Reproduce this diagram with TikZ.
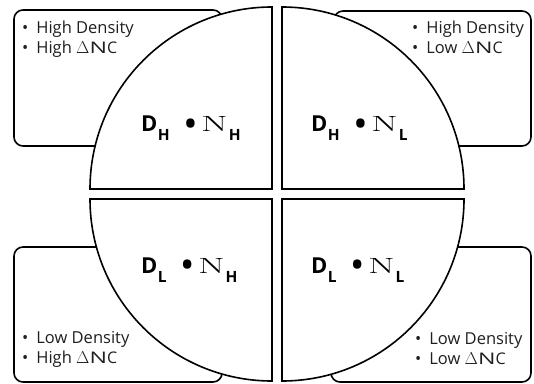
\documentclass[tikz,border=0pt]{standalone}
\usepackage{fontspec}
\usepackage{graphicx}
\newfontfamily\sansf{Open Sans}
\tikzset{
  box/.style={draw=black, line width=1.6pt, rounded corners=9pt, fill=white},
  quad/.style={draw=black, line width=1.6pt, fill=white},
  bul/.style={anchor=base west, inner sep=0pt, font=\sansf\fontsize{16.5}{18}\selectfont, text=black!88},
  lab/.style={anchor=base west, inner sep=0pt}
}
\newcommand{\wideN}[1]{\scalebox{#1}[1]{N}}
\newcommand{\sub}[1]{\raisebox{-9pt}{\sansf\bfseries\fontsize{15.5}{16}\selectfont #1}}
\newcommand{\qlab}[2]{{\sansf\bfseries\fontsize{22}{24}\selectfont D}\hspace{0.5pt}\sub{#1}\hspace{15pt}{\sansf\bfseries\fontsize{30}{30}\selectfont\raisebox{-2.5pt}{•}}\hspace{5pt}{\fontsize{22}{24}\selectfont\wideN{1.75}}\hspace{1pt}\sub{#2}}
\newcommand{\dnc}{{\fontsize{16}{16}\selectfont$\Delta$\wideN{1.45}C}}
\newcommand{\bl}{•\hspace{8pt}}
\begin{document}
\begin{tikzpicture}[x=1pt,y=1pt]
\useasboundingbox (0,0) rectangle (534,383);
% boxes
\draw[box] (14,237) rectangle (222,373);
\draw[box] (334,237) rectangle (531,372);
\draw[box] (14,1) rectangle (222,136);
\draw[box] (331,1) rectangle (531,136);
% quadrants
\def\R{182}
\draw[quad] (272,194) -- ++(-\R,0) arc[start angle=180,end angle=90,radius=\R] -- cycle;
\draw[quad] (282,194) -- ++(0,\R) arc[start angle=90,end angle=0,radius=\R] -- cycle;
\draw[quad] (272,184) -- ++(0,-\R) arc[start angle=270,end angle=180,radius=\R] -- cycle;
\draw[quad] (282,184) -- ++(\R,0) arc[start angle=0,end angle=-90,radius=\R] -- cycle;
% labels
\node[lab] (lhh) at (141,251) {\qlab{H}{H}};
\node[lab] (lhl) at (311,251) {\qlab{H}{L}};
\node[lab] (llh) at (141,110) {\qlab{L}{H}};
\node[lab] (lll) at (311,110) {\qlab{L}{L}};
% bullet texts
\node[bul] (a1) at (22,349) {\bl High Density};
\node[bul] (a2) at (22,329.5) {\bl High \dnc};
\node[bul] (b1) at (412,349) {\bl High Density};
\node[bul] (b2) at (412,329.5) {\bl Low \dnc};
\node[bul] (c1) at (22,40) {\bl Low Density};
\node[bul] (c2) at (22,20) {\bl High \dnc};
\node[bul] (d1) at (415,39) {\bl Low Density};
\node[bul] (d2) at (415,18.5) {\bl Low \dnc};
\end{tikzpicture}
\end{document}
